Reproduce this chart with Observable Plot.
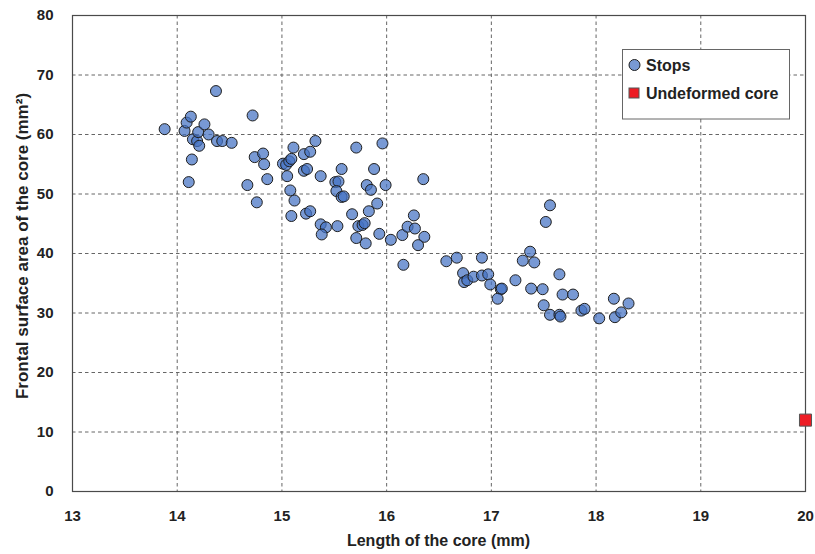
<!DOCTYPE html>
<html>
<head>
<meta charset="utf-8">
<script src="https://cdn.jsdelivr.net/npm/d3@7"></script>
<script src="https://cdn.jsdelivr.net/npm/@observablehq/plot@0.6"></script>
<style>
  body { margin: 0; background: #fff; }
</style>
</head>
<body>
<div id="chart"></div>
<script>
// ---- Data ----
const stopsLength = [
  13.88, 14.07, 14.09, 14.13, 14.11, 14.14, 14.15, 14.19, 14.20, 14.21,
  14.26, 14.30, 14.37, 14.38, 14.43, 14.52, 14.67, 14.72, 14.74, 14.76,
  14.82, 14.83, 14.86, 15.01, 15.04, 15.07, 15.09, 15.11, 15.05, 15.08,
  15.12, 15.09, 15.21, 15.27, 15.32, 15.21, 15.24, 15.23, 15.27, 15.37,
  15.57, 15.51, 15.54, 15.52, 15.57, 15.59, 15.37, 15.42, 15.38, 15.53,
  15.71, 15.96, 15.88, 15.81, 15.85, 15.99, 16.35, 15.91, 15.83, 15.67,
  15.73, 15.77, 15.79, 15.71, 15.80, 15.93, 16.04, 16.15, 16.20, 16.26,
  16.27, 16.36, 16.30, 16.16, 16.57, 16.67, 16.91, 16.73, 16.74, 16.77,
  16.83, 16.91, 16.97, 16.99, 17.09, 17.10, 17.06, 17.23, 17.30, 17.37,
  17.41, 17.38, 17.49, 17.50, 17.52, 17.56, 17.65, 17.68, 17.78, 17.56,
  17.65, 17.66, 17.86, 17.89, 18.03, 18.17, 18.18, 18.24, 18.31
];
const stopsArea = [
  60.9, 60.6, 62.0, 63.0, 52.0, 55.8, 59.2, 58.9, 60.4, 58.1,
  61.7, 60.0, 67.3, 58.9, 58.9, 58.6, 51.5, 63.2, 56.2, 48.6,
  56.8, 55.0, 52.5, 55.1, 54.9, 55.5, 55.9, 57.8, 53.0, 50.6,
  48.9, 46.3, 56.7, 57.1, 58.9, 53.9, 54.2, 46.7, 47.1, 53.0,
  54.2, 52.0, 52.1, 50.5, 49.5, 49.6, 44.9, 44.4, 43.2, 44.6,
  57.8, 58.5, 54.2, 51.5, 50.7, 51.5, 52.5, 48.4, 47.1, 46.6,
  44.6, 44.8, 45.1, 42.6, 41.7, 43.3, 42.3, 43.1, 44.5, 46.4,
  44.2, 42.8, 41.4, 38.1, 38.7, 39.3, 39.3, 36.7, 35.2, 35.5,
  36.1, 36.3, 36.5, 34.8, 34.0, 34.1, 32.4, 35.5, 38.8, 40.3,
  38.5, 34.1, 34.0, 31.3, 45.3, 48.1, 36.5, 33.1, 33.1, 29.7,
  29.7, 29.4, 30.4, 30.7, 29.1, 32.4, 29.3, 30.1, 31.6
];
const coreLength = [20];
const coreArea = [12];

const xTicks = [13, 14, 15, 16, 17, 18, 19, 20];
const yTicks = [0, 10, 20, 30, 40, 50, 60, 70, 80];
const legendLabels = ["Stops", "Undeformed core"];
const xTitle = "Length of the core (mm)";
const yTitle = "Frontal surface area of the core (mm\u00B2)";

// ---- Build tables ----
const stops = stopsLength.map((x, i) => ({ x, y: stopsArea[i] }));
const core = coreLength.map((x, i) => ({ x, y: coreArea[i] }));

const FONT = '"Liberation Sans", Arial, sans-serif';
const stopFill = "#4472C4";
const coreFill = "#ED1C24";
const gridColor = "#666666";
const textColor = "#222222";

const plot = Plot.plot({
  width: 815,
  height: 554,
  marginLeft: 72,
  marginRight: 10,
  marginTop: 15,
  marginBottom: 63,
  style: {
    fontFamily: FONT,
    fontSize: "15px",
    fontWeight: "bold",
    color: textColor,
    background: "#fff",
    overflow: "visible"
  },
  x: { domain: [13, 20], ticks: xTicks, tickSize: 0, tickPadding: 19, label: null, tickFormat: d => String(d) },
  y: { domain: [0, 80], ticks: yTicks, tickSize: 0, tickPadding: 19, label: null, tickFormat: d => String(d) },
  marks: [
    Plot.ruleX(xTicks.slice(1, -1), { stroke: gridColor, strokeDasharray: "3.5,3", strokeWidth: 1 }),
    Plot.ruleY(yTicks.slice(1, -1), { stroke: gridColor, strokeDasharray: "3.5,3", strokeWidth: 1 }),
    Plot.frame({ stroke: "#4a4a4a", strokeWidth: 1.2 }),
    Plot.dot(stops, { x: "x", y: "y", r: 5.5, fill: stopFill, fillOpacity: 0.72, stroke: "#1f1f1f", strokeWidth: 1 }),
    Plot.dot(core, { x: "x", y: "y", symbol: "square", r: 6.8, fill: coreFill, stroke: "#555", strokeWidth: 1 })
  ]
});

document.getElementById("chart").appendChild(plot);

const svg = d3.select(plot);
const xs = plot.scale("x"), ys = plot.scale("y");
const [xL, xR] = xs.range;
const [yB, yT] = ys.range;

// Axis titles
svg.append("text")
  .attr("x", (xL + xR) / 2)
  .attr("y", 546)
  .attr("text-anchor", "middle")
  .style("font-family", FONT).style("font-size", "16px").style("font-weight", "bold")
  .attr("fill", textColor)
  .text(xTitle);

svg.append("text")
  .attr("transform", `translate(28,${(yT + yB) / 2 - 7}) rotate(-90)`)
  .attr("text-anchor", "middle")
  .style("font-family", FONT).style("font-size", "17px").style("font-weight", "bold")
  .attr("fill", textColor)
  .text(yTitle);

// Legend
const lg = svg.append("g").attr("transform", "translate(622.5,49.5)");
lg.append("rect").attr("width", 167).attr("height", 69.5)
  .attr("fill", "#fff").attr("stroke", "#666").attr("stroke-width", 1);
lg.append("circle").attr("cx", 12).attr("cy", 15.5).attr("r", 5.5)
  .attr("fill", stopFill).attr("fill-opacity", 0.72).attr("stroke", "#1f1f1f");
lg.append("rect").attr("x", 6.5).attr("y", 38.5).attr("width", 10).attr("height", 10)
  .attr("fill", coreFill).attr("stroke", "#555");
legendLabels.forEach((t, i) => {
  lg.append("text")
    .attr("x", 23.5).attr("y", i === 0 ? 15.5 : 43.5)
    .attr("dy", "0.36em")
    .attr("text-anchor", "start")
    .style("font-family", FONT).style("font-size", "16px").style("font-weight", "bold")
    .attr("fill", textColor)
    .text(t);
});
</script>
</body>
</html>
